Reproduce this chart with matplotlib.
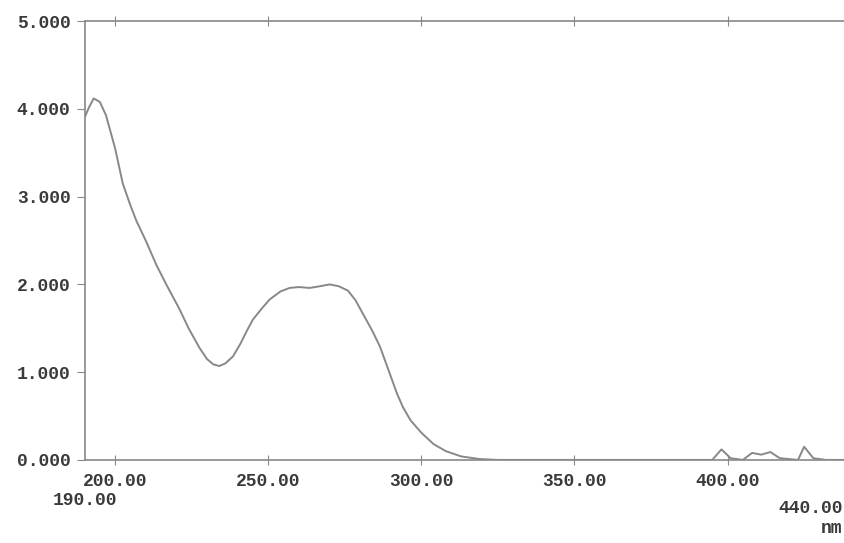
import matplotlib
matplotlib.use("Agg")
import matplotlib.pyplot as plt

# wavelength (nm) and absorbance
wavelength = [190, 191.5, 193, 195, 197, 200, 202.5, 205, 207, 210, 213.5, 217,
              221, 224, 227.5, 230, 232, 234, 236, 238.5, 241, 243, 245, 248,
              250.5, 254, 257, 260, 263.5, 267, 270, 273, 276, 278.5, 281, 284,
              286.5, 289, 292, 294, 296.5, 300, 304, 308, 313, 319, 325, 370,
              395, 398, 401, 405, 408, 411, 414, 417, 423, 425, 428, 432, 440]
absorbance = [3.90, 4.02, 4.12, 4.08, 3.93, 3.55, 3.15, 2.90, 2.72, 2.50, 2.22, 1.98,
              1.72, 1.50, 1.28, 1.15, 1.09, 1.07, 1.10, 1.18, 1.33, 1.47, 1.60, 1.73,
              1.83, 1.92, 1.96, 1.97, 1.96, 1.98, 2.00, 1.98, 1.93, 1.82, 1.66, 1.47,
              1.29, 1.05, 0.76, 0.60, 0.45, 0.31, 0.18, 0.10, 0.04, 0.01, 0.00, 0.00,
              0.00, 0.12, 0.02, 0.00, 0.08, 0.06, 0.09, 0.02, 0.00, 0.15, 0.02, 0.00, 0.00]

x_ticks = [200, 250, 300, 350, 400]
x_labels = ["200.00", "250.00", "300.00", "350.00", "400.00"]
y_ticks = [0, 1, 2, 3, 4, 5]
y_labels = ["0.000", "1.000", "2.000", "3.000", "4.000", "5.000"]

font = "Liberation Mono"
grey = "#888888"
txt = "#3a3a3a"

fig = plt.figure(figsize=(8.45, 5.43), dpi=100)
ax = fig.add_axes([0.1, 0.153, 0.906, 0.808])

ax.plot(wavelength, absorbance, color=grey, linewidth=1.4)

ax.set_xlim(190, 440)
ax.set_ylim(0, 5)

ax.set_xticks(x_ticks)
ax.set_xticklabels(x_labels, fontfamily=font, fontsize=13, color=txt,
                   fontweight="bold")
ax.set_yticks(y_ticks)
ax.set_yticklabels(y_labels, fontfamily=font, fontsize=13, color=txt,
                   fontweight="bold")
ax.tick_params(axis="x", direction="inout", length=7, color=grey, pad=6,
               top=True)
ax.tick_params(axis="y", direction="out", length=6, color=grey, pad=4)

for side in ["left", "bottom", "top"]:
    ax.spines[side].set_color(grey)
    ax.spines[side].set_linewidth(1.2)
ax.spines["right"].set_visible(False)

# end labels of the wavelength range, staggered lower like in the printout
ax.text(190, -0.46, "190.00", fontfamily=font, fontsize=13, color=txt,
        fontweight="bold", ha="center", va="center", clip_on=False)
fig.text(0.997, 0.064, "440.00", fontfamily=font, fontsize=13, color=txt,
         fontweight="bold", ha="right", va="center")
fig.text(0.997, 0.026, "nm", fontfamily=font, fontsize=13, color=txt,
         fontweight="bold", ha="right", va="center")

fig.savefig("out.png", dpi=100, facecolor="white")
